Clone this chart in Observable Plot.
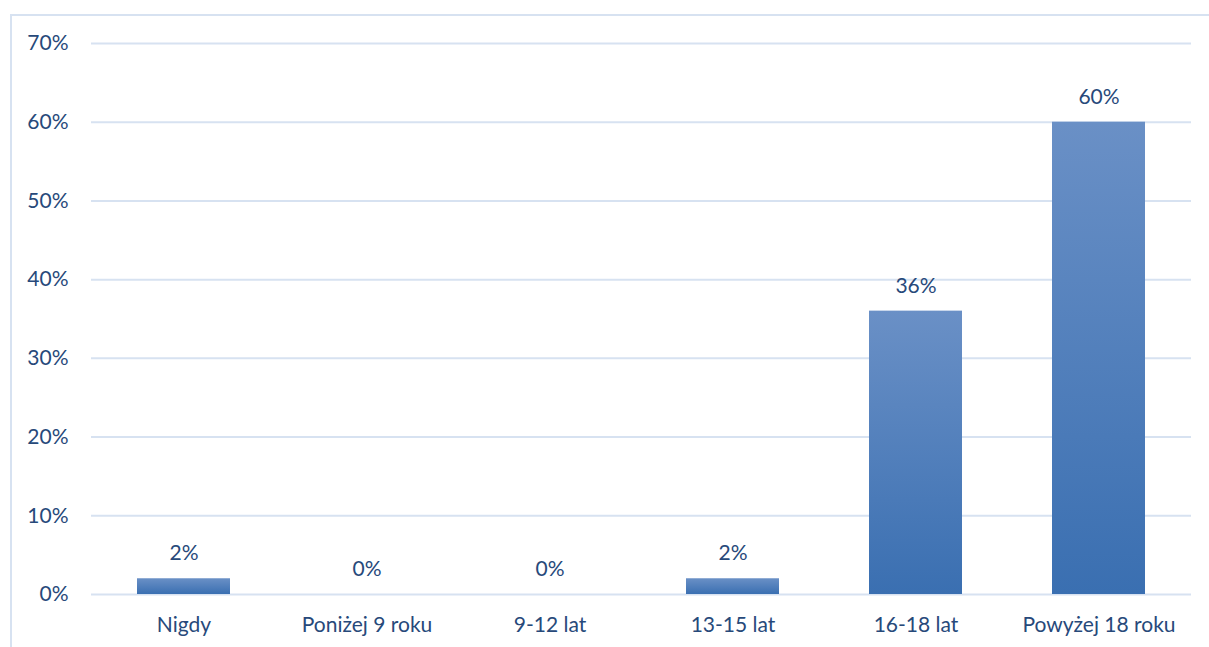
<!DOCTYPE html>
<html>
<head>
<meta charset="utf-8">
<script src="https://cdn.jsdelivr.net/npm/d3@7"></script>
<script src="https://cdn.jsdelivr.net/npm/@observablehq/plot@0.6"></script>
<style>
  html, body { margin: 0; padding: 0; background: #fff; overflow: hidden; }
  #frame { position: absolute; left: 10px; top: 14px; width: 1250px; height: 700px;
           border-left: 2px solid #d7e2f1; border-top: 2px solid #d7e2f1; box-sizing: border-box; }
  #chart { position: absolute; left: 0; top: 0; }
</style>
</head>
<body>
<div id="frame"></div>
<div id="chart"></div>
<script>
const categories = ["Nigdy", "Poniżej 9 roku", "9-12 lat", "13-15 lat", "16-18 lat", "Powyżej 18 roku"];
const values = [0.02, 0.00, 0.00, 0.02, 0.36, 0.60];
const yTicks = [0, 0.1, 0.2, 0.3, 0.4, 0.5, 0.6, 0.7];

const data = categories.map((c, i) => ({category: c, value: values[i]}));
const textColor = "#27497a";
const font = "Lato, 'Open Sans', sans-serif";

const plot = Plot.plot({
  width: 1209,
  height: 647,
  marginLeft: 91,
  marginRight: 18,
  marginTop: 43,
  marginBottom: 53,
  style: {fontFamily: font, fontSize: "21px", color: textColor, background: "transparent"},
  x: {domain: categories, paddingInner: 0.49, paddingOuter: 0.245, label: null},
  y: {domain: [0, 0.7], label: null},
  marks: [
    () => {
      const svg = d3.create("svg:defs");
      const g = svg.append("linearGradient").attr("id", "barGrad").attr("x1", 0).attr("y1", 0).attr("x2", 0).attr("y2", 1);
      g.append("stop").attr("offset", "0%").attr("stop-color", "#6a90c6");
      g.append("stop").attr("offset", "100%").attr("stop-color", "#3a6fb1");
      return svg.node();
    },
    Plot.ruleY(yTicks, {stroke: "#d7e2f1", strokeWidth: 2, strokeOpacity: 1}),
    Plot.barY(data, {x: "category", y: "value", fill: "url(#barGrad)"}),
    Plot.text(data, {x: "category", y: "value", text: d => Math.round(d.value * 100) + "%",
      dy: -25, fill: textColor, fontSize: 21}),
    Plot.axisY(yTicks, {tickFormat: d => Math.round(d * 100) + "%", tickSize: 0, tickPadding: 23,
      fontSize: 21, fill: textColor}),
    Plot.axisX({tickSize: 0, tickPadding: 23, fontSize: 21, fill: textColor})
  ]
});
document.getElementById("chart").appendChild(plot);
</script>
</body>
</html>
